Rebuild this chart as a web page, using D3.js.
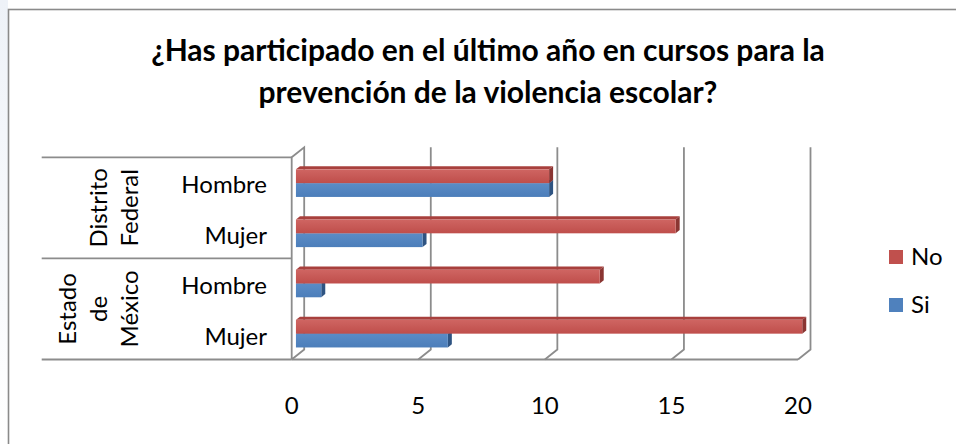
<!DOCTYPE html>
<html>
<head>
<meta charset="utf-8">
<script src="https://cdn.jsdelivr.net/npm/d3@7/dist/d3.min.js"></script>
<style>
  html, body { margin: 0; padding: 0; background: #fff; }
  svg { display: block; }
  text { font-family: Lato, "Open Sans", sans-serif; fill: #000; }
</style>
</head>
<body>
<svg id="chart" width="956" height="444"></svg>
<script>
// ---------------- data ----------------
const categories = ["Hombre", "Mujer", "Hombre", "Mujer"];
const categoryGroup = [0, 0, 1, 1];
const groupLabels = [["Distrito", "Federal"], ["Estado", "de", "México"]];
const seriesNames = ["No", "Si"];
const noValues = [10, 15, 12, 20];
const siValues = [10, 5, 1, 6];
const xTicks = [0, 5, 10, 15, 20];
const titleLines = ["¿Has participado en el último año en cursos para la", "prevención de la violencia escolar?"];

// ---------------- layout ----------------
const W = 956, H = 444;
const svg = d3.select("#chart");
const FONT = 'Lato, "Open Sans", sans-serif';
const gridColor = "#8c8c8c";

const plotTop = 157.3, plotBottom = 359.5;
const x = d3.scaleLinear().domain([0, 20]).range([291.7, 798]);
const y = d3.scaleBand().domain(d3.range(categories.length))
  .range([plotTop, plotBottom]).paddingInner(0.45).paddingOuter(0.24);
const ySeries = d3.scaleBand().domain(seriesNames).range([0, y.bandwidth()]);
const DX = 12.5, DY = 10;          // full depth offset of the 3D box
const Z0 = 0.34, Z1 = 0.66;        // depth range occupied by the bars
const proj = (v, yy, z) => [x(v) + z * DX, yy - z * DY];
const slot = (plotBottom - plotTop) / categories.length;

const colors = {
  No: { front: ["#cf6562", "#bf4e4b"], top: "#a8403d", side: "#8a3532", legend: "#c0504d" },
  Si: { front: ["#5b8cc6", "#4c7eba"], top: "#3f6a9e", side: "#2f5482", legend: "#4f81bd" }
};

// page background tint left of chart border
const defs = svg.append("defs");
const bg = defs.append("linearGradient").attr("id", "bgTint").attr("x1", 0).attr("x2", 0).attr("y1", 0).attr("y2", 1);
bg.append("stop").attr("offset", "0%").attr("stop-color", "#eef2f8");
bg.append("stop").attr("offset", "100%").attr("stop-color", "#ffffff");
svg.append("rect").attr("x", 0).attr("y", 0).attr("width", 8).attr("height", H).attr("fill", "url(#bgTint)");

seriesNames.forEach(s => {
  const g = defs.append("linearGradient").attr("id", "grad" + s).attr("x1", 0).attr("x2", 0).attr("y1", 0).attr("y2", 1);
  g.append("stop").attr("offset", "0%").attr("stop-color", colors[s].front[0]);
  g.append("stop").attr("offset", "100%").attr("stop-color", colors[s].front[1]);
});

// chart area border (right/bottom edges fall outside the picture)
svg.append("rect").attr("x", 8.5).attr("y", 9.5).attr("width", 1000).attr("height", 1000)
  .attr("fill", "#fff").attr("stroke", "#8a8a8a").attr("stroke-width", 1.6);

// ---------------- title ----------------
svg.append("g").selectAll("text").data(titleLines).join("text")
  .attr("x", 488).attr("y", (d, i) => 61 + i * 42)
  .attr("text-anchor", "middle")
  .style("font-family", FONT).style("font-weight", "bold").style("font-size", "30px")
  .text(d => d);

// ---------------- 3D walls and gridlines ----------------
const grid = svg.append("g").attr("fill", "none").attr("stroke", gridColor).attr("stroke-width", 1.8);
// back-wall gridlines + floor diagonals
grid.selectAll("path.gl").data(xTicks.filter(v => v > 0)).join("path").attr("class", "gl")
  .attr("d", v => d3.line()([proj(v, plotTop, 1), proj(v, plotBottom, 1), proj(v, plotBottom, 0)]));
// side wall at x = 0
grid.append("path").attr("d", d3.line()([
  proj(0, plotBottom, 0), proj(0, plotTop, 0), proj(0, plotTop, 1), proj(0, plotBottom, 1), proj(0, plotBottom, 0)
]));
// front floor edge
grid.append("path").attr("d", d3.line()([proj(0, plotBottom, 0), proj(20, plotBottom, 0)]));

// category axis lines (group separators)
const sepYs = d3.range(groupLabels.length + 1).map(k => plotTop + k * (plotBottom - plotTop) / groupLabels.length);
svg.append("g").selectAll("line").data(sepYs).join("line")
  .attr("x1", 41.7).attr("x2", x(0)).attr("y1", d => d).attr("y2", d => d)
  .attr("stroke", gridColor).attr("stroke-width", 1.8);

// ---------------- bars ----------------
const barData = [];
categories.forEach((c, i) => {
  // draw Si (lower) first, then No on top
  barData.push({ i, s: "Si", v: siValues[i] });
  barData.push({ i, s: "No", v: noValues[i] });
});
const bars = svg.append("g").selectAll("g").data(barData).join("g");
bars.each(function (d) {
  const g = d3.select(this);
  const yt = y(d.i) + ySeries(d.s) + Z0 * DY; // in front-plane coordinates
  const h = ySeries.bandwidth();
  const top = [proj(0, yt, Z0), proj(d.v, yt, Z0), proj(d.v, yt, Z1), proj(0, yt, Z1)];
  const side = [proj(d.v, yt, Z0), proj(d.v, yt + h, Z0), proj(d.v, yt + h, Z1), proj(d.v, yt, Z1)];
  const f0 = proj(0, yt, Z0), f1 = proj(d.v, yt + h, Z0);
  g.append("path").attr("d", d3.line()(top) + "Z").attr("fill", colors[d.s].top);
  g.append("path").attr("d", d3.line()(side) + "Z").attr("fill", colors[d.s].side);
  g.append("rect").attr("x", f0[0]).attr("y", f0[1]).attr("width", f1[0] - f0[0]).attr("height", f1[1] - f0[1])
    .attr("fill", "url(#grad" + d.s + ")");
});

// ---------------- axis labels ----------------
svg.append("g").selectAll("text").data(categories).join("text")
  .attr("x", 267).attr("y", (d, i) => plotTop + (i + 0.5) * slot + 2)
  .attr("dy", "0.35em").attr("text-anchor", "end")
  .style("font-size", "24px").text(d => d);

const groupCenters = groupLabels.map((g, k) => (sepYs[k] + sepYs[k + 1]) / 2);
const lineGap = 31;
groupLabels.forEach((lines, k) => {
  const lastBase = 138;
  lines.forEach((t, j) => {
    const bx = lastBase - (lines.length - 1 - j) * lineGap;
    svg.append("text")
      .attr("transform", `translate(${bx},${groupCenters[k]}) rotate(-90)`)
      .attr("text-anchor", "middle").style("font-size", "24px").text(t);
  });
});

svg.append("g").selectAll("text").data(xTicks).join("text")
  .attr("x", d => x(d)).attr("y", 405.6).attr("dy", "0.35em").attr("text-anchor", "middle")
  .style("font-size", "24px").text(d => d);

// ---------------- legend ----------------
const legend = svg.append("g").selectAll("g").data(seriesNames).join("g")
  .attr("transform", (d, i) => `translate(889,${250 + i * 48})`);
legend.append("rect").attr("width", 14).attr("height", 14).attr("fill", d => colors[d].legend);
legend.append("text").attr("x", 22).attr("y", 7).attr("dy", "0.35em").style("font-size", "24px").text(d => d);
</script>
</body>
</html>
